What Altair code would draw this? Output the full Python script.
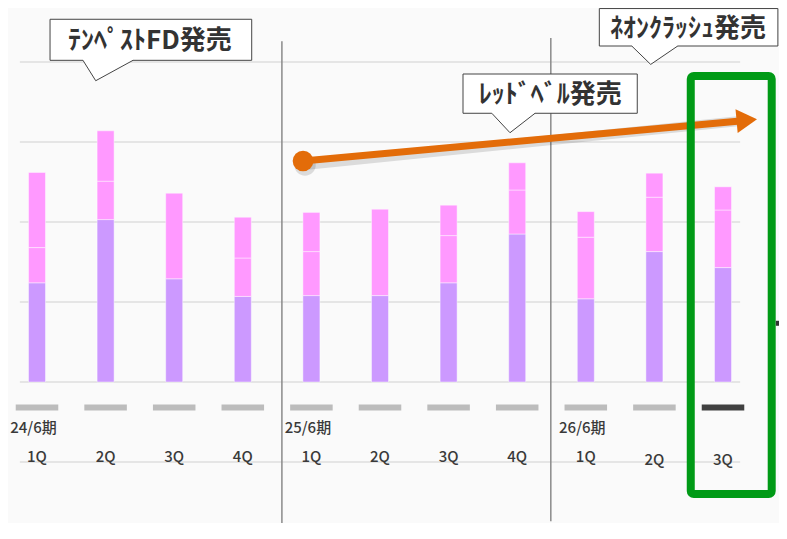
import altair as alt
import pandas as pd

# ---------------- data ----------------
quarters = ["1Q", "2Q", "3Q", "4Q", "1Q", "2Q", "3Q", "4Q", "1Q", "2Q", "3Q"]
periods = ["24/6期", "25/6期", "26/6期"]
period_start = [0, 4, 8]
seg_base = [124, 203, 129, 107, 108, 108, 124, 185, 104, 163, 143]   # purple
seg_mid = [44, 48, 107, 48, 55, 108, 59, 55, 77, 68, 72]            # pink
seg_top = [94, 63, 0, 51, 49, 0, 38, 34, 32, 30, 29]                # pink (upper)
highlight = [0] * 10 + [1]

callout_text = ["ﾃﾝﾍﾟｽﾄFD発売", "ﾚｯﾄﾞﾍﾞﾙ発売", "ﾈｵﾝｸﾗｯｼｭ発売"]
box_x0 = [0.19, 6.21, 8.197]
box_x1 = [3.13, 8.75, 10.80]
box_y0 = [402.1, 335.9, 420.0]
box_y1 = [453.4, 385.0, 466.8]
ptr_left = [0.67, 6.63, 8.67]
ptr_right = [1.40, 7.26, 9.34]
ptr_tip_x = [0.856, 6.895, 8.946]
ptr_tip_y = [376.6, 311.6, 397.0]
text_x = [1.647, 7.48, 9.49]

grid_values = [-100, 0, 100, 200, 300, 400]
separators = [3.57, 7.49]

arrow_start = (3.878, 276.25)
arrow_end = (10.25, 326.25)
arrow_head = (10.347, 327.25)

focus_box = (9.53, 10.71, -140.0, 382.5)

# ---------------- scales ----------------
W, H = 771, 515
xs = alt.Scale(domain=[-0.42274, 10.8163], nice=False, zero=False)
ys = alt.Scale(domain=[-176.25, 467.5], nice=False, zero=False)
FONT = "Noto Sans CJK JP"
TXT = "#3a3a3a"

n = len(quarters)
rows = []
for i in range(n):
    b0 = 0
    for seg, v, col in (("base", seg_base[i], "#CC99FF"), ("mid", seg_mid[i], "#FF99FF"), ("top", seg_top[i], "#FF99FF")):
        if v > 0:
            rows.append({"i": i, "seg": seg, "y0": b0, "y1": b0 + v, "col": col})
        b0 += v
bars_df = pd.DataFrame(rows)

bars = alt.Chart(bars_df).transform_calculate(
    xa="datum.i - 0.124", xb="datum.i + 0.124"
).mark_rect(stroke="white", strokeWidth=0.8, strokeOpacity=0.55).encode(
    x=alt.X("xa:Q", scale=xs, axis=None),
    x2="xb:Q",
    y=alt.Y("y0:Q", scale=ys, axis=None),
    y2="y1:Q",
    color=alt.Color("col:N", scale=None),
)

grid_df = pd.DataFrame({"y": grid_values, "xa": -0.25, "xb": 10.25})
grid = alt.Chart(grid_df).mark_rule(color="#dedede", strokeWidth=1.5).encode(
    x=alt.X("xa:Q", scale=xs, axis=None), x2="xb:Q", y=alt.Y("y:Q", scale=ys, axis=None)
)

sep_df = pd.DataFrame({"x": separators, "ya": [426.0, 430.0], "yb": [-180.0, -174.0]})
seps = alt.Chart(sep_df).mark_rule(color="#8a8a8a", strokeWidth=1.5).encode(
    x=alt.X("x:Q", scale=xs, axis=None), y=alt.Y("ya:Q", scale=ys, axis=None), y2="yb:Q"
)

dash_df = pd.DataFrame({"i": list(range(n)), "hl": highlight})
dashes = alt.Chart(dash_df).transform_calculate(
    xa="datum.i - 0.31", xb="datum.i + 0.31", y="-32"
).mark_rule(strokeWidth=6).encode(
    x=alt.X("xa:Q", scale=xs, axis=None), x2="xb:Q",
    y=alt.Y("y:Q", scale=ys, axis=None),
    color=alt.condition("datum.hl == 1", alt.value("#404040"), alt.value("#bcbcbc")),
)

q_df = pd.DataFrame({"i": list(range(n)), "q": quarters,
                     "y": [-94] * 9 + [-98, -98]})
qlabels = alt.Chart(q_df).mark_text(font=FONT, fontSize=15, fontWeight=500, color=TXT,
                                    baseline="middle", align="center").encode(
    x=alt.X("i:Q", scale=xs, axis=None), y=alt.Y("y:Q", scale=ys, axis=None), text="q:N"
)

p_df = pd.DataFrame({"i": period_start, "p": periods})
plabels = alt.Chart(p_df).transform_calculate(x="datum.i - 0.39", y="-57").mark_text(
    font=FONT, fontSize=15, fontWeight=500, color=TXT, baseline="middle", align="left"
).encode(x=alt.X("x:Q", scale=xs, axis=None), y=alt.Y("y:Q", scale=ys, axis=None), text="p:N")

# focus box
fb_df = pd.DataFrame({"xa": [focus_box[0]], "xb": [focus_box[1]], "ya": [focus_box[2]], "yb": [focus_box[3]]})
fbox = alt.Chart(fb_df).mark_rect(fill=None, fillOpacity=0, stroke="#009a16", strokeWidth=8, cornerRadius=3).encode(
    x=alt.X("xa:Q", scale=xs, axis=None), x2="xb:Q", y=alt.Y("ya:Q", scale=ys, axis=None), y2="yb:Q"
)

# small arrow at right edge
ra_df = pd.DataFrame({"xa": [10.77], "xb": [10.95], "y": [73.4]})
rarrow = alt.Chart(ra_df).mark_rule(color="#333333", strokeWidth=5).encode(
    x=alt.X("xa:Q", scale=xs, axis=None), x2="xb:Q", y=alt.Y("y:Q", scale=ys, axis=None)
)

# orange arrow
ar_df = pd.DataFrame({"xa": [arrow_start[0]], "ya": [arrow_start[1]], "xb": [arrow_end[0]], "yb": [arrow_end[1]]})
ORANGE = "#e36c09"
shadow = alt.Chart(ar_df).mark_rule(color="#000000", opacity=0.12, strokeWidth=10, xOffset=2, yOffset=4).encode(
    x=alt.X("xa:Q", scale=xs, axis=None), y=alt.Y("ya:Q", scale=ys, axis=None), x2="xb:Q", y2="yb:Q"
)
aline = alt.Chart(ar_df).mark_rule(color=ORANGE, strokeWidth=7).encode(
    x=alt.X("xa:Q", scale=xs, axis=None), y=alt.Y("ya:Q", scale=ys, axis=None), x2="xb:Q", y2="yb:Q"
)
dot_df = pd.DataFrame({"x": [arrow_start[0]], "y": [arrow_start[1]]})
dot_shadow = alt.Chart(dot_df).mark_circle(size=460, color="#000000", opacity=0.12, xOffset=2, yOffset=4).encode(
    x=alt.X("x:Q", scale=xs, axis=None), y=alt.Y("y:Q", scale=ys, axis=None)
)
dot = alt.Chart(dot_df).mark_circle(size=430, color=ORANGE, opacity=1).encode(
    x=alt.X("x:Q", scale=xs, axis=None), y=alt.Y("y:Q", scale=ys, axis=None)
)
head_df = pd.DataFrame({"x": [arrow_head[0]], "y": [arrow_head[1]]})
head = alt.Chart(head_df).mark_point(shape="triangle-right", size=560, filled=True, color=ORANGE,
                                     opacity=1, angle=354.75).encode(
    x=alt.X("x:Q", scale=xs, axis=None), y=alt.Y("y:Q", scale=ys, axis=None)
)

# callouts
cb_df = pd.DataFrame({"id": [0, 1, 2], "xa": box_x0, "xb": box_x1, "ya": box_y0, "yb": box_y1,
                      "t": callout_text, "tx": text_x})
cbox = alt.Chart(cb_df).mark_rect(fill="white", stroke="#444444", strokeWidth=1).encode(
    x=alt.X("xa:Q", scale=xs, axis=None), x2="xb:Q", y=alt.Y("ya:Q", scale=ys, axis=None), y2="yb:Q"
)
ptr_rows = []
for k in range(3):
    base = box_y0[k]
    ptr_rows.append({"id": k, "x": ptr_left[k], "top": base + 1.6, "bot": base})
    ptr_rows.append({"id": k, "x": ptr_tip_x[k], "top": base + 1.6, "bot": ptr_tip_y[k]})
    ptr_rows.append({"id": k, "x": ptr_right[k], "top": base + 1.6, "bot": base})
ptr_df = pd.DataFrame(ptr_rows)
pfill = alt.Chart(ptr_df).mark_area(color="white", opacity=1, interpolate="linear").encode(
    x=alt.X("x:Q", scale=xs, axis=None), y=alt.Y("top:Q", scale=ys, axis=None), y2="bot:Q", detail="id:N"
)
pedge = alt.Chart(ptr_df).mark_line(color="#444444", strokeWidth=1).encode(
    x=alt.X("x:Q", scale=xs, axis=None), y=alt.Y("bot:Q", scale=ys, axis=None), detail="id:N",
    order="x:Q",
)
ctext = alt.Chart(cb_df).transform_calculate(
    ym="(datum.ya + datum.yb) / 2 - 2"
).mark_text(font=FONT, fontSize=26, fontWeight="bold", color="#333333", align="center", baseline="middle").encode(
    x=alt.X("tx:Q", scale=xs, axis=None), y=alt.Y("ym:Q", scale=ys, axis=None), text="t:N"
)

chart = alt.layer(
    grid, bars, seps, dashes, qlabels, plabels, shadow, dot_shadow, aline, dot, head,
    fbox, rarrow, cbox, pfill, pedge, ctext,
).properties(
    width=W, height=H,
    autosize=alt.AutoSizeParams(type="none"),
    padding=0,
    background="#fafafa",
).configure_view(stroke=None)

chart.save("out.html", embed_options={"renderer": "svg", "actions": False})
